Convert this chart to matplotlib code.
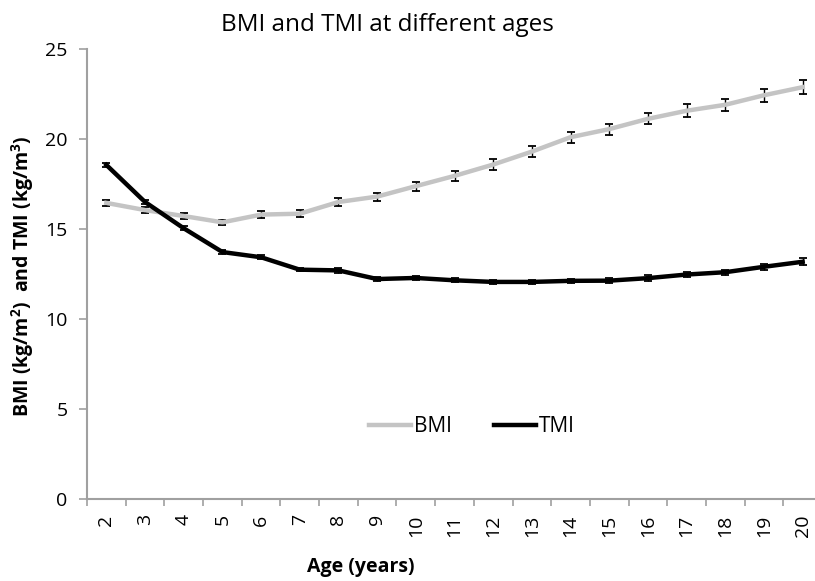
import matplotlib
matplotlib.use("Agg")
import matplotlib.pyplot as plt
from matplotlib.lines import Line2D
import numpy as np

ages = ["2", "3", "4", "5", "6", "7", "8", "9", "10", "11", "12", "13", "14",
        "15", "16", "17", "18", "19", "20"]
bmi = [16.45, 16.05, 15.72, 15.37, 15.8, 15.85, 16.5, 16.8, 17.38, 17.95,
       18.58, 19.3, 20.1, 20.55, 21.12, 21.57, 21.9, 22.43, 22.88]
bmi_err = [0.15, 0.15, 0.15, 0.15, 0.18, 0.2, 0.2, 0.22, 0.25, 0.27, 0.3,
           0.32, 0.3, 0.3, 0.3, 0.35, 0.35, 0.35, 0.4]
tmi = [18.56, 16.5, 15.04, 13.72, 13.43, 12.74, 12.7, 12.22, 12.28, 12.15,
       12.06, 12.06, 12.12, 12.13, 12.27, 12.47, 12.6, 12.9, 13.18]
tmi_err = [0.12, 0.12, 0.1, 0.1, 0.1, 0.1, 0.12, 0.12, 0.12, 0.12, 0.12,
           0.12, 0.12, 0.15, 0.15, 0.15, 0.15, 0.18, 0.2]

plt.rcParams['font.family'] = ['Open Sans', 'DejaVu Sans']
plt.rcParams['mathtext.fontset'] = 'custom'
plt.rcParams['mathtext.rm'] = 'Open Sans:bold'
plt.rcParams['mathtext.it'] = 'Open Sans:bold'
plt.rcParams['mathtext.bf'] = 'Open Sans:bold'

fig = plt.figure(figsize=(8.15, 5.81), dpi=100)
ax = fig.add_axes([87/815, 82/581, 735/815, 450/581])

x = np.arange(len(ages))
ax.errorbar(x, bmi, yerr=bmi_err, color='#c4c4c4', lw=3.2, ecolor='black',
            elinewidth=1, capsize=3, capthick=1.3, label='BMI', zorder=2)
ax.errorbar(x, tmi, yerr=tmi_err, color='black', lw=3.2, ecolor='black',
            elinewidth=1, capsize=3, capthick=1.3, label='TMI', zorder=3)

ax.set_xlim(-0.5, len(ages) - 0.5)
ax.set_ylim(0, 25)
ax.set_yticks([0, 5, 10, 15, 20, 25])
ax.set_xticks(x)
ax.set_xticklabels(ages, rotation=90, fontsize=14)
ax.set_xticks(np.arange(-0.5, len(ages), 1), minor=True)
ax.tick_params(axis='x', which='major', length=0, pad=11)
ax.tick_params(axis='x', which='minor', length=5, color='#a0a0a0', width=1.2)
ax.tick_params(axis='y', length=6, color='#a0a0a0', width=1.2, labelsize=14, pad=8)

for s in ['top', 'right']:
    ax.spines[s].set_visible(False)
for s in ['left', 'bottom']:
    ax.spines[s].set_color('#a0a0a0')
    ax.spines[s].set_linewidth(1.5)

fig.text(387/815, 1 - 25/581, 'BMI and TMI at different ages', ha='center',
         va='center', fontsize=17.5)
fig.text(23/815, 1 - 276/581, r'BMI (kg/m$^\mathrm{2}$)  and TMI (kg/m$^\mathrm{3}$)', rotation=90,
         ha='center', va='center', fontsize=14, fontweight='bold')
fig.text(361/815, 1 - 567/581, 'Age (years)', ha='center', va='center',
         fontsize=14, fontweight='bold')

handles = [Line2D([], [], color='#c4c4c4', lw=3.2), Line2D([], [], color='black', lw=3.2)]
ax.legend(handles, ['BMI', 'TMI'], loc='center', bbox_to_anchor=((472-87)/735, (499-427)/450),
          ncol=2, frameon=False, fontsize=15, handlelength=2.0, handletextpad=0.15,
          columnspacing=2.0)

fig.savefig('out.png', dpi=100)
